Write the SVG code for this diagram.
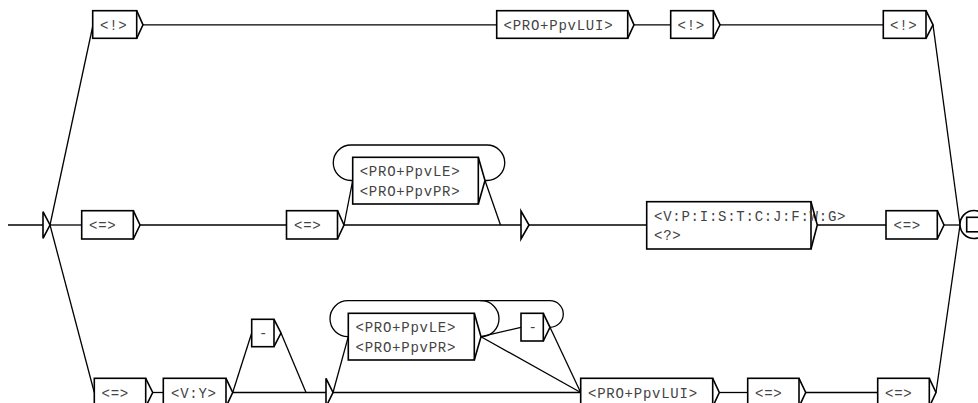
<svg xmlns="http://www.w3.org/2000/svg" width="978" height="403" viewBox="0 0 978 403">
<style>
.bx{fill:#fff;stroke:#000;stroke-width:1.6}
.tr{fill:none;stroke:#000;stroke-width:1.6;stroke-linejoin:miter}
.ln{fill:none;stroke:#000;stroke-width:1.3}
.t{font-family:"Courier New","Nimbus Mono PS","FreeMono","Liberation Mono",monospace;font-size:14px;letter-spacing:0.75px;fill:#444}
</style>
<rect width="978" height="403" fill="#fff"/>
<g id="connectors">
<line class="ln" x1="8" y1="225" x2="43" y2="225"/>
<line class="ln" x1="50" y1="225" x2="93" y2="25"/>
<line class="ln" x1="50" y1="225" x2="82" y2="225"/>
<line class="ln" x1="50" y1="225" x2="94.3" y2="392.5"/>
<line class="ln" x1="143" y1="24.8" x2="496.7" y2="24.8"/>
<line class="ln" x1="634" y1="24.8" x2="670.7" y2="24.8"/>
<line class="ln" x1="720" y1="24.8" x2="883.3" y2="24.8"/>
<line class="ln" x1="933" y1="24.8" x2="960" y2="225"/>
<line class="ln" x1="140" y1="225" x2="286" y2="225"/>
<line class="ln" x1="344" y1="225" x2="521" y2="225"/>
<line class="ln" x1="344" y1="225" x2="352.7" y2="180.5"/>
<line class="ln" x1="485" y1="180.5" x2="500.5" y2="225"/>
<path class="ln" d="M485,180.5 H487 A17.75,17.75 0 0 0 487,145 H351 A17.75,17.75 0 0 0 351,180.5 H352.7"/>
<line class="ln" x1="529" y1="225" x2="646.7" y2="225"/>
<line class="ln" x1="817.3" y1="225" x2="886" y2="225"/>
<line class="ln" x1="944" y1="225" x2="960" y2="225"/>
<line class="ln" x1="152.7" y1="392.5" x2="163.3" y2="392.5"/>
<line class="ln" x1="232.7" y1="392.5" x2="326" y2="392.5"/>
<line class="ln" x1="232.7" y1="392.5" x2="251.7" y2="333"/>
<line class="ln" x1="281" y1="333" x2="306" y2="392.5"/>
<line class="ln" x1="333" y1="392.5" x2="580.7" y2="392.5"/>
<line class="ln" x1="333" y1="392.5" x2="348.3" y2="336.7"/>
<path class="ln" d="M481,336.7 A18,18 0 0 0 481,300.7 H348 A18,18 0 0 0 348,336.7"/>
<path class="ln" d="M550,327.3 A13.3,13.3 0 0 0 550,300.7 H480"/>
<line class="ln" x1="481" y1="336.7" x2="521" y2="327.3"/>
<line class="ln" x1="481" y1="336.7" x2="580.7" y2="392.5"/>
<line class="ln" x1="550" y1="327.3" x2="580.7" y2="392.5"/>
<line class="ln" x1="719.3" y1="392.5" x2="747.7" y2="392.5"/>
<line class="ln" x1="805.7" y1="392.5" x2="877.7" y2="392.5"/>
<line class="ln" x1="936" y1="392.5" x2="960" y2="225"/>
</g>
<g id="initial">
<path class="tr" d="M43,211.7 V238.3 L50,225 Z"/>
</g>
<g id="final">
<circle cx="974" cy="224.5" r="14" fill="#fff" stroke="#000" stroke-width="1.6"/>
<rect x="966.7" y="217.3" width="16" height="14.5" fill="#fff" stroke="#000" stroke-width="1.6"/>
</g>
<g id="n_top1">
<rect class="bx" x="92.7" y="10.7" width="44" height="27.6"/>
<path class="tr" d="M136.7,10.7 L143,24.8 L136.7,38.3"/>
<text class="t" x="100" y="30">&lt;!&gt;</text>
</g>
<g id="n_top2">
<rect class="bx" x="496.7" y="10.7" width="131" height="27.6"/>
<path class="tr" d="M627.7,10.7 L634,24.8 L627.7,38.3"/>
<text class="t" x="503.5" y="30">&lt;PRO+PpvLUI&gt;</text>
</g>
<g id="n_top3">
<rect class="bx" x="670.7" y="10.7" width="42.6" height="27.6"/>
<path class="tr" d="M713.3,10.7 L720,24.8 L713.3,38.3"/>
<text class="t" x="677.5" y="30">&lt;!&gt;</text>
</g>
<g id="n_top4">
<rect class="bx" x="883.3" y="10.7" width="42.7" height="27.6"/>
<path class="tr" d="M926,10.7 L933,24.8 L926,38.3"/>
<text class="t" x="890" y="30">&lt;!&gt;</text>
</g>
<g id="n_mid1">
<rect class="bx" x="81.7" y="210.7" width="51.6" height="28.3"/>
<path class="tr" d="M133.3,210.7 L140,225 L133.3,239"/>
<text class="t" x="89" y="230">&lt;=&gt;</text>
</g>
<g id="n_mid2">
<rect class="bx" x="286.5" y="210.7" width="51" height="28.3"/>
<path class="tr" d="M337.5,210.7 L344,225 L337.5,239"/>
<text class="t" x="294" y="230">&lt;=&gt;</text>
</g>
<g id="n_mid3">
<rect class="bx" x="352.7" y="157.3" width="125.6" height="46.7"/>
<path class="tr" d="M478.3,157.3 L485,180.5 L478.3,204"/>
<text class="t" x="359.7" y="176">&lt;PRO+PpvLE&gt;</text>
<text class="t" x="359.7" y="195.5">&lt;PRO+PpvPR&gt;</text>
</g>
<g id="n_mid4">
<path class="tr" d="M521,211 V239 L529,225 Z"/>
</g>
<g id="n_mid5">
<rect class="bx" x="646.7" y="201.7" width="164.3" height="47.3"/>
<text class="t" x="654" y="220.5">&lt;V:P:I:S:T:C:J:F:W:G&gt;</text>
<text class="t" x="654" y="240">&lt;?&gt;</text>
<path class="tr" d="M811,201.7 L817.3,225 L811,249"/>
</g>
<g id="n_mid6">
<rect class="bx" x="886" y="210.7" width="51.3" height="28.3"/>
<path class="tr" d="M937.3,210.7 L944,225 L937.3,239"/>
<text class="t" x="893.5" y="230">&lt;=&gt;</text>
</g>
<g id="n_bot1">
<rect class="bx" x="94.3" y="378.3" width="51.4" height="28.5"/>
<path class="tr" d="M145.7,378.3 L152.7,392.5 L145.7,406.8"/>
<text class="t" x="101.5" y="397.5">&lt;=&gt;</text>
</g>
<g id="n_bot2">
<rect class="bx" x="163.3" y="378.3" width="62.7" height="28.5"/>
<path class="tr" d="M226,378.3 L232.7,392.5 L226,406.8"/>
<text class="t" x="171" y="397.5">&lt;V:Y&gt;</text>
</g>
<g id="n_bot3">
<rect class="bx" x="251.7" y="319.3" width="22.3" height="27.4"/>
<path class="tr" d="M274,319.3 L281,333 L274,346.7"/>
<text class="t" x="259" y="338">-</text>
</g>
<g id="n_bot4">
<path class="tr" d="M326,378.3 V406.8 L333,392.5 Z"/>
</g>
<g id="n_bot5">
<rect class="bx" x="348.3" y="313.3" width="126" height="46.7"/>
<path class="tr" d="M474.3,313.3 L481,336.7 L474.3,360"/>
<text class="t" x="355.5" y="332">&lt;PRO+PpvLE&gt;</text>
<text class="t" x="355.5" y="351.5">&lt;PRO+PpvPR&gt;</text>
</g>
<g id="n_bot6">
<rect class="bx" x="521" y="313.3" width="22.3" height="27.7"/>
<path class="tr" d="M543.3,313.3 L550,327.3 L543.3,341"/>
<text class="t" x="528.5" y="332">-</text>
</g>
<g id="n_bot7">
<rect class="bx" x="580.7" y="378.3" width="132" height="28.5"/>
<path class="tr" d="M712.7,378.3 L719.3,392.5 L712.7,406.8"/>
<text class="t" x="588" y="397.5">&lt;PRO+PpvLUI&gt;</text>
</g>
<g id="n_bot8">
<rect class="bx" x="747.7" y="378.3" width="51.3" height="28.5"/>
<path class="tr" d="M799,378.3 L805.7,392.5 L799,406.8"/>
<text class="t" x="755" y="397.5">&lt;=&gt;</text>
</g>
<g id="n_bot9">
<rect class="bx" x="877.7" y="378.3" width="51.6" height="28.5"/>
<path class="tr" d="M929.3,378.3 L936,392.5 L929.3,406.8"/>
<text class="t" x="885" y="397.5">&lt;=&gt;</text>
</g>
</svg>
